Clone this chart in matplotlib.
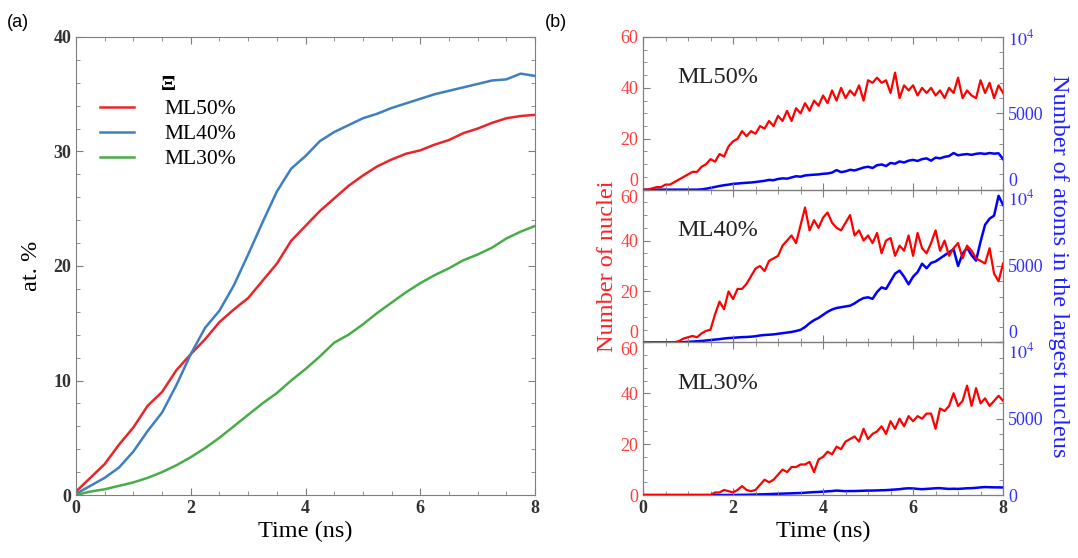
import numpy as np
import matplotlib
matplotlib.use("Agg")
import matplotlib.pyplot as plt
from matplotlib.ticker import MultipleLocator, FixedLocator, FuncFormatter

plt.rcParams["font.family"] = ["Liberation Serif", "DejaVu Serif"]
plt.rcParams["mathtext.fontset"] = "stix"

# ---- panel (a): at. % vs time ----
time_a = np.arange(0, 8.01, 0.25)
ml50_at = [0.3, 1.5, 2.7, 4.4, 5.9, 7.8, 9.0, 10.9, 12.3, 13.6, 15.1, 16.2, 17.2,
           18.7, 20.2, 22.2, 23.5, 24.8, 25.9, 27.0, 27.9, 28.7, 29.3, 29.8, 30.1,
           30.6, 31.0, 31.6, 32.0, 32.5, 32.9, 33.1, 33.2]
ml40_at = [0.1, 0.8, 1.5, 2.4, 3.8, 5.6, 7.2, 9.6, 12.3, 14.6, 16.1, 18.3, 21.0,
           23.8, 26.5, 28.5, 29.6, 30.9, 31.7, 32.3, 32.9, 33.3, 33.8, 34.2, 34.6,
           35.0, 35.3, 35.6, 35.9, 36.2, 36.3, 36.8, 36.6]
ml30_at = [0.0, 0.3, 0.5, 0.8, 1.1, 1.5, 2.0, 2.6, 3.3, 4.1, 5.0, 6.0, 7.0, 8.0,
           8.9, 10.0, 11.0, 12.1, 13.3, 14.0, 14.9, 15.9, 16.8, 17.7, 18.5, 19.2,
           19.8, 20.5, 21.0, 21.6, 22.4, 23.0, 23.5]
labels_a = ["ML50%", "ML40%", "ML30%"]
colors_a = ["#e8262a", "#3d7fbf", "#4aac48"]

# ---- panel (b): number of nuclei / atoms in largest nucleus ----
time_b = np.arange(0, 8.01, 0.1)
ml50_nuclei = [0, 0, 0.5, 1, 1, 2, 2, 3, 4, 5,
               6, 7, 7, 9, 10, 12, 11, 14, 13, 17,
               19, 20, 23, 21, 23, 22, 25, 24, 27, 25,
               29, 27, 31, 27, 32, 30, 34, 31, 35, 33,
               37, 34, 39, 35, 40, 36, 39, 37, 41, 35,
               43, 42, 44, 42, 43, 38, 46, 36, 41, 39,
               41, 37, 40, 38, 40, 37, 39, 36, 40, 38,
               44, 36, 39, 37, 36, 43, 38, 42, 36, 41, 38]
ml50_atoms = [0, 0, 0, 0, 0, 0, 0, 0, 0, 0,
              0, 0, 0, 20, 60, 120, 180, 240, 290, 330,
              380, 400, 430, 450, 470, 500, 540, 580, 640, 620,
              700, 740, 720, 800, 880, 850, 930, 960, 980, 1000,
              1040, 1060, 1120, 1280, 1150, 1200, 1300, 1260, 1350, 1450,
              1500, 1420, 1600, 1650, 1550, 1750, 1700, 1850, 1780, 1900,
              1950, 1880, 2000, 2050, 1900, 2100, 2050, 2150, 2200, 2400,
              2250, 2300, 2330, 2280, 2350, 2380, 2340, 2400, 2360, 2380, 2000]
ml40_nuclei = [0, 0, 0, 0, 0, 0, 0, 0, 0.5, 1.5,
               2, 2.5, 2, 3.5, 4.5, 5, 11, 16, 13, 20,
               17, 21, 21, 23, 26, 29, 30, 28, 32, 33,
               34, 38, 40, 42, 39, 46, 53, 44, 48, 45,
               49, 51, 47, 45, 44, 47, 50, 42, 44, 40,
               42, 39, 43, 35, 40, 41, 34, 38, 36, 42,
               34, 43, 37, 35, 39, 44, 36, 40, 34, 37,
               39, 33, 38, 36, 33, 32, 31, 37, 27, 24, 31]
ml40_atoms = [0, 0, 0, 0, 0, 0, 0, 0, 0, 10,
              30, 50, 70, 90, 120, 150, 180, 210, 250, 280,
              300, 320, 340, 350, 370, 400, 450, 480, 500, 520,
              560, 600, 640, 680, 740, 820, 1000, 1250, 1450, 1600,
              1800, 2000, 2150, 2250, 2300, 2350, 2400, 2550, 2750, 2900,
              2950, 2850, 3300, 3600, 3500, 4000, 4500, 4700, 4300, 3800,
              4300, 4600, 5150, 4850, 5200, 5300, 5500, 5700, 5900, 6100,
              5000, 5800, 6200, 5700, 5350, 6600, 7700, 8100, 8300, 9600, 9000]
ml30_nuclei = [0, 0, 0, 0, 0, 0, 0, 0, 0, 0,
               0, 0, 0, 0, 0, 0, 1, 1, 2, 1.5,
               1, 2, 3.5, 2, 1.5, 2, 4, 6, 5, 6,
               8, 10, 9, 11, 11, 12, 12, 13, 9, 14,
               15, 17, 16, 19, 18, 21, 22, 23, 21, 26,
               22, 24, 25, 27, 24, 29, 26, 30, 27, 31,
               29, 31, 30, 32, 32, 26, 34, 33, 35, 40,
               35, 37, 43, 35, 42, 36, 38, 35, 37, 39, 37]
ml30_atoms = [0, 0, 0, 0, 0, 0, 0, 0, 0, 0,
              0, 0, 0, 0, 0, 0, 0, 0, 0, 0,
              0, 5, 10, 15, 20, 30, 40, 50, 60, 70,
              80, 90, 100, 110, 120, 130, 150, 170, 190, 200,
              220, 240, 260, 290, 270, 250, 260, 260, 270, 280,
              290, 290, 300, 310, 320, 340, 360, 380, 420, 440,
              430, 400, 380, 400, 420, 440, 450, 420, 400, 410,
              400, 420, 440, 450, 470, 500, 520, 510, 500, 500, 490]
panel_names = ["ML50%", "ML40%", "ML30%"]
nuclei_sets = [ml50_nuclei, ml40_nuclei, ml30_nuclei]
atoms_sets = [ml50_atoms, ml40_atoms, ml30_atoms]

spine_col = "#7f7f7f"
red_lbl = "#ff3b3b"
blue_lbl = "#3030ff"

fig = plt.figure(figsize=(10.78, 5.58), dpi=100)


def style_axis(ax):
    for s in ax.spines.values():
        s.set_color(spine_col)
    ax.tick_params(which="both", direction="in", color=spine_col, top=True)
    ax.tick_params(which="major", length=5)
    ax.tick_params(which="minor", length=3)


# panel (a)
ax = fig.add_axes([0.0705, 0.1129, 0.4258, 0.8208])
for y, lab, c in zip([ml50_at, ml40_at, ml30_at], labels_a, colors_a):
    ax.plot(time_a, y, color=c, lw=1.8, label=lab)
ax.set_xlim(0, 8)
ax.set_ylim(0, 40)
ax.xaxis.set_major_locator(MultipleLocator(2))
ax.xaxis.set_minor_locator(MultipleLocator(0.5))
ax.yaxis.set_major_locator(MultipleLocator(10))
ax.yaxis.set_minor_locator(MultipleLocator(2))
style_axis(ax)
ax.tick_params(right=True, which="both")
for t in ax.get_xticklabels() + ax.get_yticklabels():
    t.set_fontsize(13)
    t.set_fontweight("bold")
    t.set_color("#333333")
ax.set_xlabel("Time (ns)", fontsize=17.5, labelpad=3)
ax.set_ylabel("at. %", fontsize=17.5, labelpad=8)
leg = ax.legend(loc="upper left", bbox_to_anchor=(0.01, 0.96), frameon=False,
                fontsize=15.5, title="Ξ", handlelength=1.6, handletextpad=1.4,
                labelspacing=0.22)
leg.get_title().set_fontsize(16)
leg.get_title().set_fontweight("bold")
fig.text(0.006, 0.975, "(a)", fontsize=13, family="Liberation Sans", va="top")

# panel (b)
left_b, width_b = 0.5965, 0.334
h_b = 0.2736
bottoms = [0.1129 + 2 * h_b, 0.1129 + h_b, 0.1129]
for i, (name, nuc, atm, bot) in enumerate(zip(panel_names, nuclei_sets, atoms_sets, bottoms)):
    axl = fig.add_axes([left_b, bot, width_b, h_b])
    axr = axl.twinx()
    axl.plot(time_b, nuc, color="#ff0000", lw=1.6, zorder=3)
    axr.plot(time_b, atm, color="#0000ff", lw=1.8)
    axl.set_zorder(axr.get_zorder() + 1)
    axl.patch.set_visible(False)
    axl.set_xlim(0, 8)
    axl.set_ylim(0, 60)
    axr.set_ylim(0, 10000)
    axl.xaxis.set_major_locator(MultipleLocator(2))
    axl.xaxis.set_minor_locator(MultipleLocator(0.5))
    axl.yaxis.set_major_locator(FixedLocator([0, 20, 40, 60]))
    axl.yaxis.set_minor_locator(MultipleLocator(5))
    axr.yaxis.set_major_locator(FixedLocator([0, 5000, 10000]))
    axr.yaxis.set_minor_locator(MultipleLocator(1000))
    axr.yaxis.set_major_formatter(FuncFormatter(
        lambda v, p: "$10^4$" if v >= 10000 else str(int(v))))
    style_axis(axl)
    for s in axr.spines.values():
        s.set_color(spine_col)
    axr.tick_params(which="both", direction="in", color=spine_col)
    axr.tick_params(which="major", length=5)
    axr.tick_params(which="minor", length=3)
    lticks = axl.yaxis.get_major_ticks()
    rticks = axr.yaxis.get_major_ticks()
    for t in lticks:
        t.label1.set_fontsize(13)
        t.label1.set_color(red_lbl)
    for t in rticks:
        t.label2.set_fontsize(13)
        t.label2.set_color(blue_lbl)
    # keep labels at panel joins apart
    if i < 2:
        lticks[0].label1.set_verticalalignment("bottom")
        rticks[0].label2.set_verticalalignment("bottom")
    if i > 0:
        lticks[-1].label1.set_verticalalignment("top")
        rticks[-1].label2.set_verticalalignment("top")
    if i < 2:
        axl.tick_params(labelbottom=False)
    else:
        for t in axl.get_xticklabels():
            t.set_fontsize(13)
            t.set_fontweight("bold")
            t.set_color("#333333")
        axl.set_xlabel("Time (ns)", fontsize=17.5, labelpad=3)
    axl.text(0.75, 44, name, fontsize=17.5, color="#222222", va="center")
    if i == 1:
        axl.set_ylabel("Number of nuclei", fontsize=17.5, color="#ff2020", labelpad=2)
        axr.set_ylabel("Number of atoms in the largest nucleus", fontsize=17.5,
                       color="#2020ff", rotation=270, labelpad=18)
fig.text(0.505, 0.975, "(b)", fontsize=13, family="Liberation Sans", va="top")

fig.savefig("out.png", dpi=100)
